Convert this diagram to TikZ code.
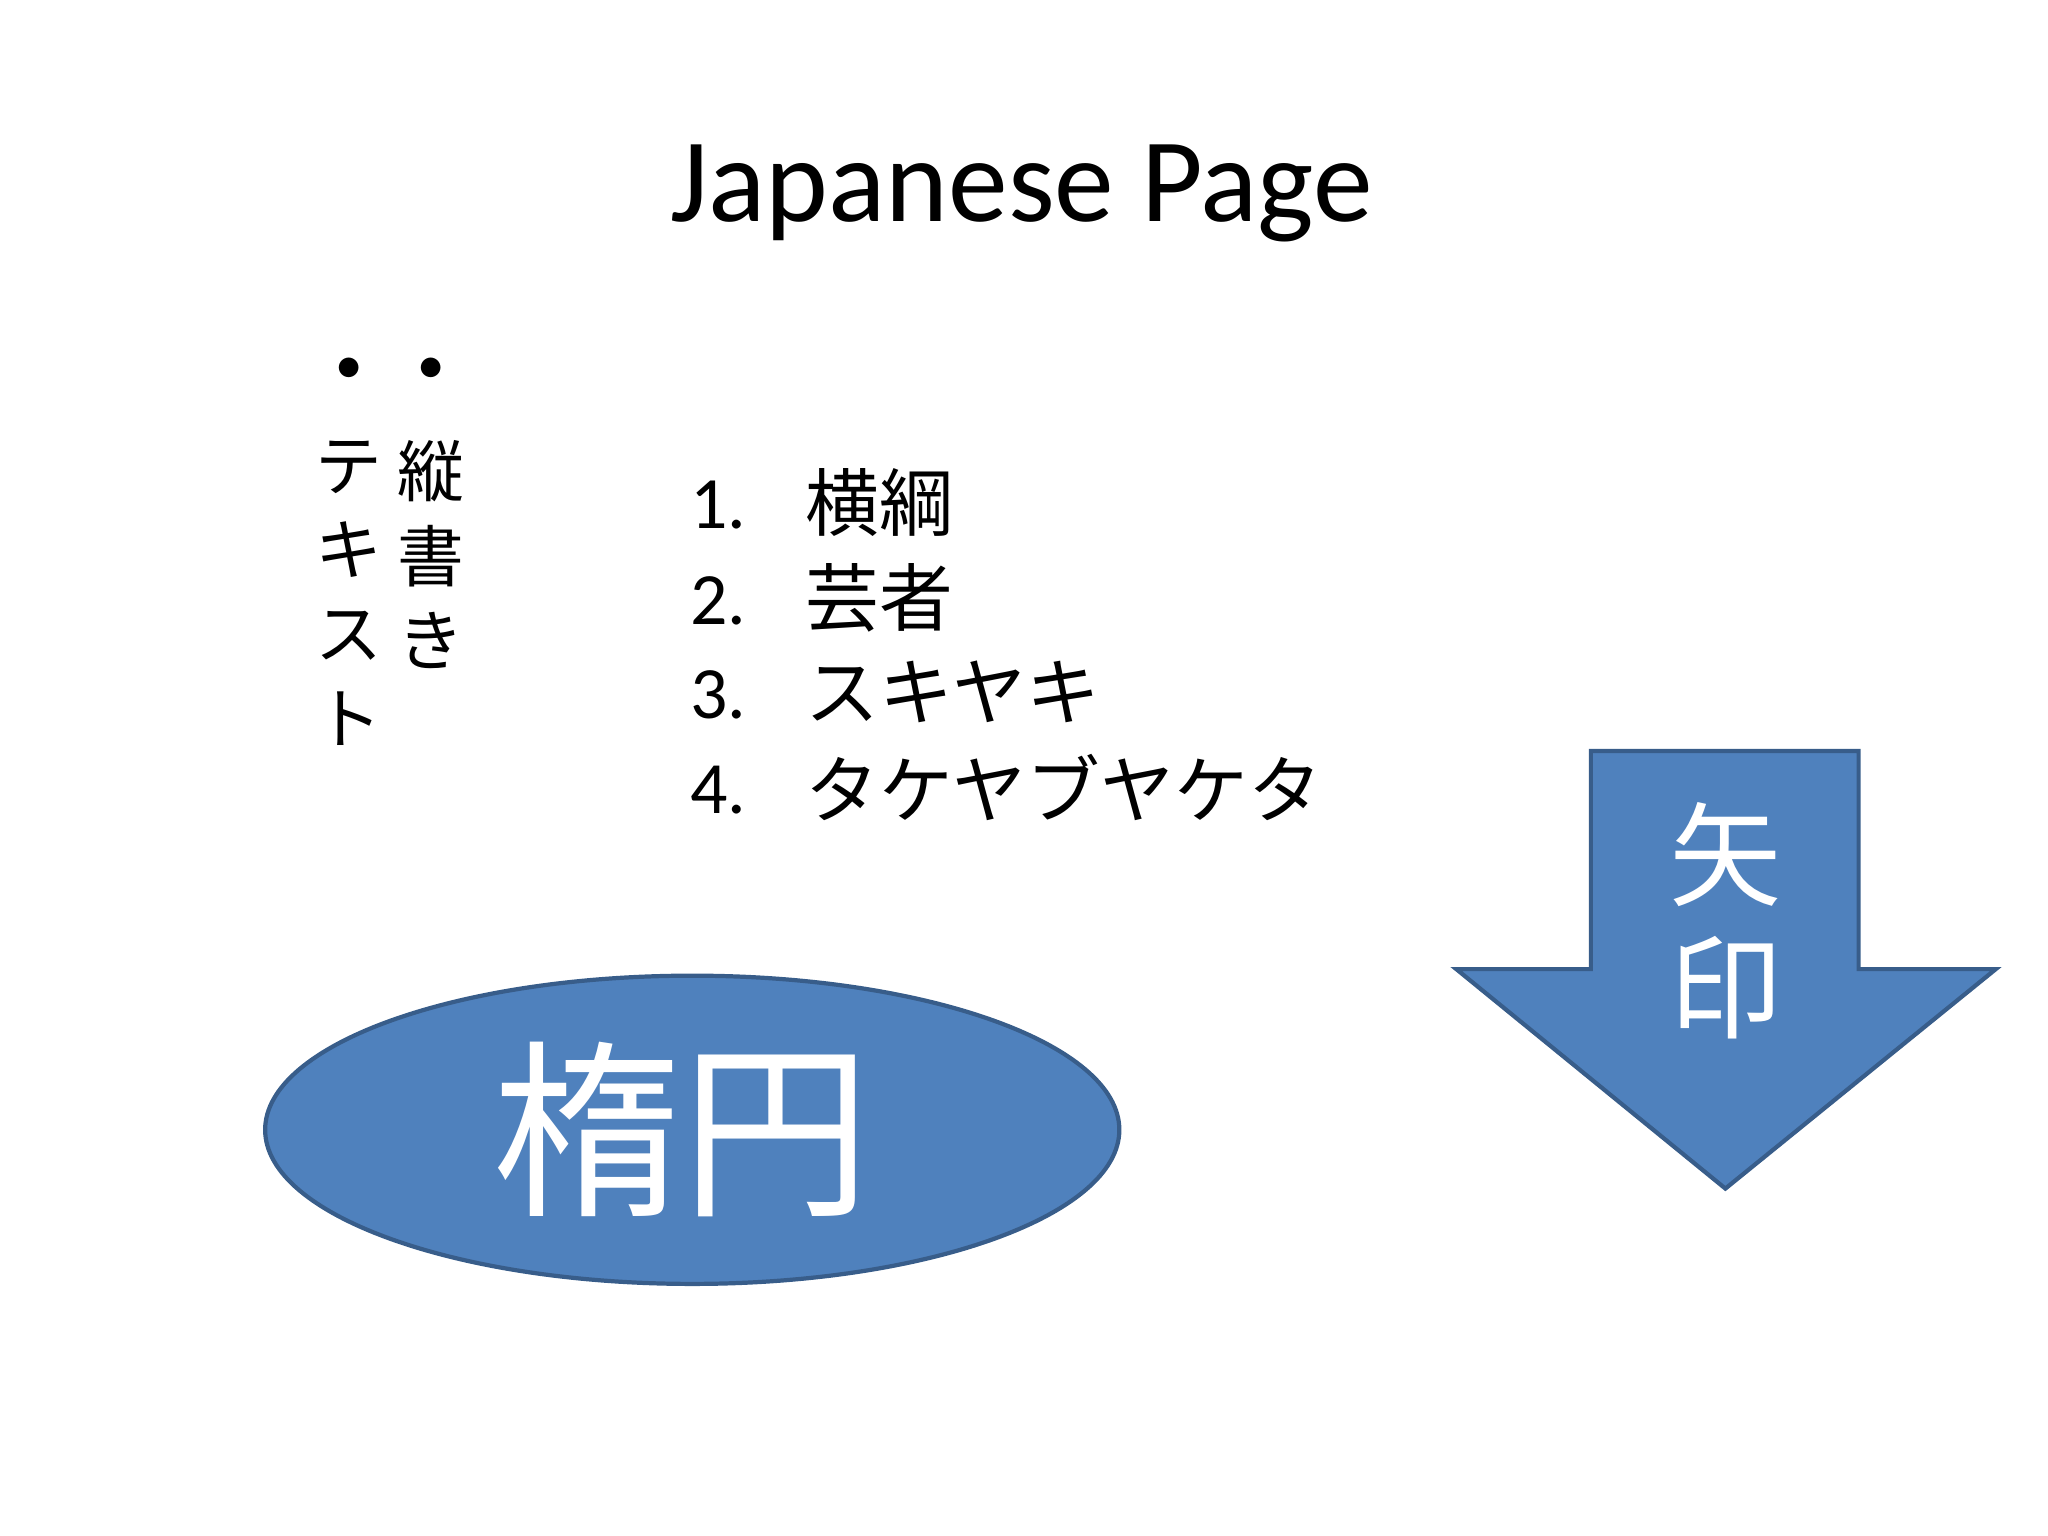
\documentclass[tikz,border=0pt]{standalone}
\usepackage{fontspec}
\setmainfont{Carlito}
\newfontfamily\cjk{Noto Sans CJK JP}
\usetikzlibrary{shapes.geometric}
\definecolor{fillblue}{HTML}{4F81BD}
\definecolor{edgeblue}{HTML}{385D8A}
\tikzset{
 cjktxt/.style={font=\cjk\fontsize{19pt}{24pt}\selectfont, inner sep=0pt},
 listnum/.style={font=\fontsize{21pt}{24pt}\selectfont, anchor=west, inner sep=0pt},
 listtxt/.style={font=\cjk\fontsize{21pt}{24pt}\selectfont, anchor=west, inner sep=0pt},
 shapebox/.style={fill=fillblue, draw=edgeblue, line width=1.2pt}
}
\begin{document}
\begin{tikzpicture}[x=0.01306cm,y=-0.01306cm]
\useasboundingbox (0,0) rectangle (1568,1176);
\node (title) at (782,148) {\fontsize{34pt}{40pt}\selectfont Japanese Page};
\node (b1) at (267,283) {\Large$\bullet$};
\node (b2) at (330,283) {\Large$\bullet$};
\node[cjktxt, anchor=north, align=center] (v2) at (330,337) {縦\\書\\き};
\node[cjktxt, anchor=north, align=center] (v1) at (267,337) {テ\\キ\\ス\\ト};
\node[listnum] (n1) at (528,387) {1.};
\node[listnum] (n2) at (528,460) {2.};
\node[listnum] (n3) at (528,532) {3.};
\node[listnum] (n4) at (528,605) {4.};
\node[listtxt] (t1) at (616,385) {横綱};
\node[listtxt] (t2) at (616,458) {芸者};
\node[listtxt] (t3) at (616,530) {スキヤキ};
\node[listtxt] (t4) at (616,603) {タケヤブヤケタ};
\draw[shapebox] (530,865) ellipse [x radius=327, y radius=118];
\node[text=white, font=\cjk\fontsize{54pt}{60pt}\selectfont] (el) at (522,865) {楕円};
\draw[shapebox] (1218,575) -- (1423,575) -- (1423,742) -- (1528,742) -- (1321,910) -- (1115,742) -- (1218,742) -- cycle;
\node[text=white, font=\cjk\fontsize{32pt}{38pt}\selectfont, align=center] (ar) at (1321,705) {矢\\印};
\end{tikzpicture}
\end{document}
